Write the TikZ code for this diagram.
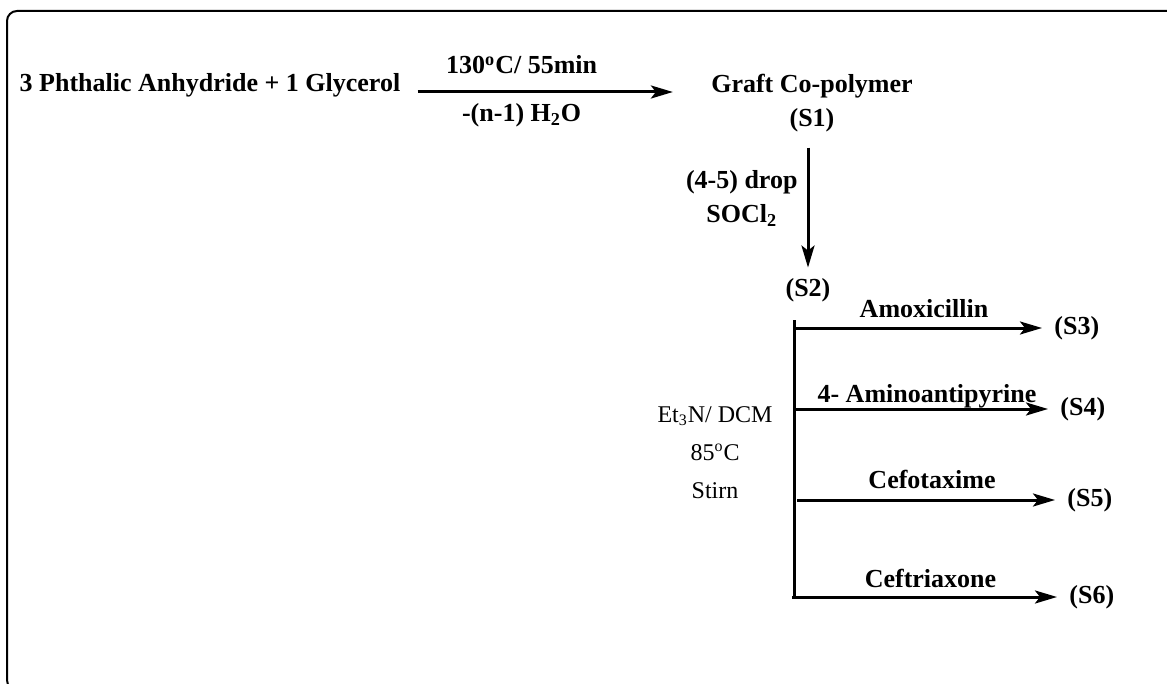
\documentclass[tikz,border=0pt]{standalone}
\usepackage{fontspec}
\setmainfont{Liberation Serif}
\usetikzlibrary{arrows.meta,calc}
\tikzset{
  chem/.style={font=\fontsize{13}{17}\selectfont\bfseries, inner sep=0pt, align=center},
  cond/.style={font=\fontsize{12}{19}\selectfont, inner sep=0pt, align=center},
  flow/.style={-{Stealth[length=11pt, width=6.5pt, inset=2.5pt]}, line width=1.5pt},
  branch/.style={line width=1.5pt},
  frame/.style={rounded corners=5pt, line width=1pt},
  rlabel/.style={chem, midway, anchor=base},
}

\begin{document}
\begin{tikzpicture}[x=0.5pt, y=-0.5pt]
\useasboundingbox (0,0) rectangle (1167,684);
\clip (0,0) rectangle (1167,684);

% ── outer frame (runs off the right and bottom edges) ──────
\draw[frame] (7,11) rectangle (1190,690);

% ── step 1: condensation to the graft co-polymer ───────────
\node[chem, anchor=base] (react) at (210,92) {3 Phthalic Anhydride + 1 Glycerol};
\node[chem, anchor=north] (s1) at (812,74) {Graft Co-polymer\\(S1)};
\draw[flow, shorten <=8.5pt, shorten >=19pt]
      (react.base east) -- (react.base east -| s1.west)
      node[chem, pos=0.39, anchor=base, yshift=9pt] {130\textsuperscript{o}C/ 55min}
      node[chem, pos=0.39, anchor=base, yshift=-15pt] {-(n-1) H\textsubscript{2}O};

% ── step 2: acid chloride ──────────────────────────────────
\node[chem, anchor=base] (s2) at (808,297) {(S2)};
\draw[flow, shorten <=7.5pt, shorten >=5.5pt] (s1.south -| s2.north) -- (s2.north)
      node[chem, pos=0.45, left=4.5pt] {(4-5) drop\\SOCl\textsubscript{2}};

% ── step 3: coupling with the drugs ────────────────────────
\node[cond, anchor=north] (cnd) at (715,406)
      {Et\textsubscript{3}N/ DCM\\85\textsuperscript{o}C\\Stirn};

\coordinate (bt) at (794,320);
\coordinate (bb) at (794,597);
\draw[branch] (bt) -- (bb);

\node[chem, anchor=west] (s3) at (1054,328) {(S3)};
\node[chem, anchor=west] (s4) at (1060,409) {(S4)};
\node[chem, anchor=west] (s5) at (1067,500) {(S5)};
\node[chem, anchor=west] (s6) at (1069,597) {(S6)};

\coordinate (b3) at (794,328);
\coordinate (b4) at (794,409);
\coordinate (b5) at (797,500);
\coordinate (b6) at (792,597);

\draw[flow, shorten >=6pt] (b3) -- (s3) node[rlabel, yshift=5.5pt] {Amoxicillin};
\draw[flow, shorten >=6pt] (b4) -- (s4) node[rlabel, yshift=3.5pt] {4- Aminoantipyrine};
\draw[flow, shorten >=6pt] (b5) -- (s5) node[rlabel, yshift=6pt] {Cefotaxime};
\draw[flow, shorten >=6pt] (b6) -- (s6) node[rlabel, yshift=5pt] {Ceftriaxone};

\end{tikzpicture}
\end{document}
